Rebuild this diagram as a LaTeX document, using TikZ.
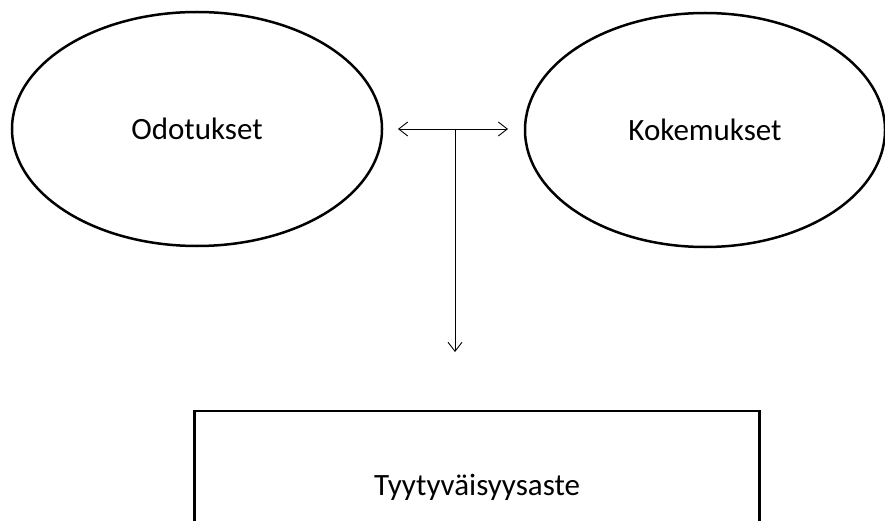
\documentclass[tikz,border=0pt]{standalone}
\usepackage{fontspec}
\setmainfont{Carlito}
\usetikzlibrary{shapes.geometric,arrows.meta}

\begin{document}
\begin{tikzpicture}[x=1pt,y=-1pt,
  oval/.style={ellipse,draw,line width=2.5pt,inner sep=0pt,font=\fontsize{31}{36}\selectfont},
  box/.style={rectangle,draw,line width=2.5pt,minimum width=565pt,minimum height=152pt,font=\fontsize{31}{36}\selectfont},
  link/.style={line width=0.9pt,-{Straight Barb[length=9pt,width=14pt]}},
  twoway/.style={line width=0.9pt,{Straight Barb[length=9pt,width=14pt]}-{Straight Barb[length=9pt,width=14pt]}}]

\clip (0,0) rectangle (885,521);

\node at (197,129) [oval,minimum width=370pt,minimum height=234pt] (odo) {Odotukset};
\node at (705,130) [oval,minimum width=360pt,minimum height=234pt] (kok) {Kokemukset};
\node at (477,487) [box] (taso) {Tyytyväisyysaste};

\coordinate (vas) at (398,129);
\coordinate (oik) at (508,129);
\coordinate (haara) at (455,129);
\coordinate (karki) at (455,352);

\draw [twoway] (vas) -- (oik);
\draw [link] (haara) -- (karki);
\end{tikzpicture}
\end{document}
